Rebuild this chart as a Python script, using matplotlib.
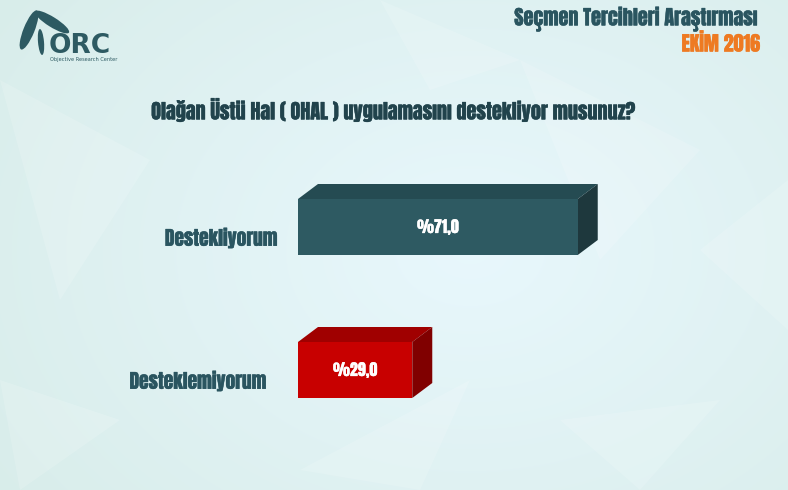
import numpy as np
import matplotlib
matplotlib.use("Agg")
import matplotlib.pyplot as plt
import matplotlib.patheffects as pe
from matplotlib.patches import Polygon, Ellipse

categories = ["Destekliyorum", "Desteklemiyorum"]
values = [71.0, 29.0]
value_labels = ["%71,0", "%29,0"]
title = "Olağan Üstü Hal ( OHAL ) uygulamasını destekliyor musunuz?"
header = "Seçmen Tercihleri Araştırması"
subheader = "EKİM 2016"

W, H = 788, 490
fig = plt.figure(figsize=(W / 100, H / 100), dpi=100)

# background gradient
bg = fig.add_axes([0, 0, 1, 1])
yy, xx = np.mgrid[0:H, 0:W]
d = np.sqrt(((xx - 470) / 560.0) ** 2 + ((yy - 250) / 420.0) ** 2)
d = np.clip(d, 0, 1)
c_center = np.array([0.91, 0.97, 0.99])
c_edge = np.array([0.85, 0.93, 0.92])
img = c_center[None, None, :] * (1 - d[..., None]) + c_edge[None, None, :] * d[..., None]
bg.imshow(img, extent=[0, W, H, 0], aspect="auto")
facets = [
    [(0, 80), (150, 160), (60, 300)], [(520, 60), (700, 150), (600, 260)],
    [(560, 420), (720, 400), (640, 490)], [(300, 470), (470, 380), (420, 490)],
    [(700, 250), (788, 180), (788, 330)], [(0, 380), (120, 420), (20, 490)],
    [(380, 0), (520, 60), (430, 90)],
]
for f in facets:
    bg.add_patch(Polygon(f, closed=True, facecolor="white", alpha=0.15, edgecolor="none"))
bg.set_xlim(0, W)
bg.set_ylim(H, 0)
bg.axis("off")

FONT = ["Anton", "DejaVu Sans"]
LOGO = "#2d5a62"


def bold(color, lw=0.3):
    return [pe.withStroke(linewidth=lw, foreground=color)]


# logo
bg.add_patch(Ellipse((29, 30), 11, 42, angle=22, facecolor=LOGO, edgecolor="none"))
bg.add_patch(Ellipse((52, 22), 10, 40, angle=-58, facecolor=LOGO, edgecolor="none"))
bg.add_patch(Ellipse((41, 42), 6, 26, angle=-5, facecolor=LOGO, edgecolor="none"))
bg.text(49, 46, "ORC", fontsize=19, fontweight="bold", color=LOGO,
        family=["DejaVu Sans"], ha="left", va="center")
bg.text(50, 60, "Objective Research Center", fontsize=3.6, color=LOGO,
        family=["DejaVu Sans"], ha="left", va="center")

bg.text(758, 19, header, fontsize=14.5, color="#2a5560",
        family=FONT, ha="right", va="center", path_effects=bold("#2a5560"))
bg.text(760, 43, subheader, fontsize=14.5, color="#ee7a22",
        family=FONT, ha="right", va="center", path_effects=bold("#ee7a22"))
bg.text(393, 110, title, fontsize=14.5, color="#21434c",
        family=FONT, ha="center", va="center", path_effects=bold("#21434c"))

# chart axes: x 0..100 maps 298..692 px; y category positions
px_per_x = 394 / 100.0
top_px, bot_px = 150, 450
px_per_y = 143.0
y_top = 0 - (227 - top_px) / px_per_y
y_bot = 1 + (bot_px - 370) / px_per_y
ax = fig.add_axes([298 / W, 1 - bot_px / H, 394 / W, (bot_px - top_px) / H])
ax.set_xlim(0, 100)
ax.set_ylim(y_bot, y_top)
ax.axis("off")
ax.patch.set_alpha(0)

bar_h = 56 / px_per_y
dx = 20 / px_per_x
dy = 15 / px_per_y
front_cols = ["#2e5a62", "#c80000"]
top_cols = ["#254b52", "#a00000"]
side_cols = ["#1e383d", "#800000"]

for i, (v, lab) in enumerate(zip(values, value_labels)):
    y0 = i - bar_h / 2
    y1 = i + bar_h / 2
    ax.add_patch(Polygon([(0, y0), (dx, y0 - dy), (v + dx, y0 - dy), (v, y0)],
                         closed=True, facecolor=top_cols[i], edgecolor="none"))
    ax.add_patch(Polygon([(v, y0), (v + dx, y0 - dy), (v + dx, y1 - dy), (v, y1)],
                         closed=True, facecolor=side_cols[i], edgecolor="none"))
    ax.add_patch(Polygon([(0, y0), (v, y0), (v, y1), (0, y1)],
                         closed=True, facecolor=front_cols[i], edgecolor="none"))
    ax.text(v / 2, i, lab, fontsize=11.5, color="white",
            family=FONT, ha="center", va="center", path_effects=bold("white", 0.2))

label_x_px = [278, 267]
label_y_px = [238, 381]
for i, c in enumerate(categories):
    bg.text(label_x_px[i], label_y_px[i], c, fontsize=14,
            color="#2a5560", family=FONT, ha="right", va="center",
            path_effects=bold("#2a5560"))

fig.savefig("out.png", dpi=100)
